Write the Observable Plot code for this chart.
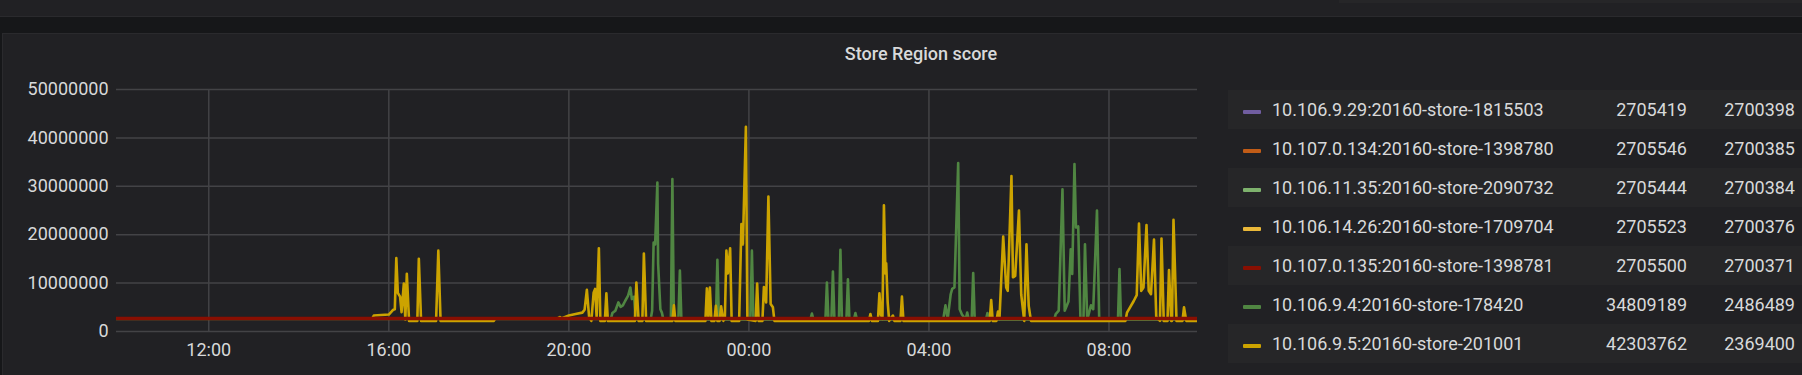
<!DOCTYPE html>
<html>
<head>
<meta charset="utf-8">
<script src="https://cdn.jsdelivr.net/npm/d3@7"></script>
<script src="https://cdn.jsdelivr.net/npm/@observablehq/plot@0.6"></script>
<style>
  html, body { margin: 0; padding: 0; background: #161719; width: 1802px; height: 375px; overflow: hidden; font-family: Roboto, "Noto Sans", sans-serif; }
  #toppanel { position: absolute; left: 0; top: 0; width: 1802px; height: 16px; background: #212124; border-bottom: 1px solid #2a2a2d; }
  #topbox { position: absolute; left: 1339px; top: 0; width: 463px; height: 3px; background: #262628; }
  #panel { position: absolute; left: 2px; top: 33px; width: 1810px; height: 350px; background: #212124; border-left: 1px solid #2a2a2d; border-top: 1px solid #2a2a2d; }
  #title { position: absolute; left: 0; width: 1842px; top: 43px; line-height: 22px; text-align: center; color: #d8d9da; font-size: 18px; font-weight: 500; }
  #chart { position: absolute; left: 0; top: 60px; }
  #legend { position: absolute; left: 1228px; top: 90px; width: 600px; }
  .row { position: relative; height: 39px; color: #d8d9da; font-size: 18px; }
  .row.odd { background: #262628; }
  .sw { position: absolute; left: 15px; top: 20px; width: 18px; height: 4px; border-radius: 1px; }
  .nm { position: absolute; left: 44px; top: 0; line-height: 39px; white-space: nowrap; }
  .v1 { position: absolute; left: 0; width: 459px; top: 0; line-height: 39px; text-align: right; }
  .v2 { position: absolute; left: 0; width: 567px; top: 0; line-height: 39px; text-align: right; }
</style>
</head>
<body>
<div id="toppanel"></div>
<div id="topbox"></div>
<div id="panel"></div>
<div id="title">Store Region score</div>
<div id="chart"></div>
<div id="legend"></div>
<script>
// ---- data (values in millions; "+" marks times on the following day) ----
const seriesNames = [
  "10.106.9.29:20160-store-1815503",
  "10.107.0.134:20160-store-1398780",
  "10.106.11.35:20160-store-2090732",
  "10.106.14.26:20160-store-1709704",
  "10.107.0.135:20160-store-1398781",
  "10.106.9.4:20160-store-178420",
  "10.106.9.5:20160-store-201001"
];
const legendMax = ["2705419", "2705546", "2705444", "2705523", "2705500", "34809189", "42303762"];
const legendCurrent = ["2700398", "2700385", "2700384", "2700376", "2700371", "2486489", "2369400"];

const purplePts = [["09:57", 2.705], ["+09:58", 2.700]];
const orangePts = [["09:57", 2.705], ["+09:58", 2.700]];
const lightGreenPts = [["09:57", 2.705], ["+09:58", 2.700]];
const lightYellowPts = [["09:57", 2.705], ["+09:58", 2.700]];
const redPts = [["09:57", 2.705], ["+09:58", 2.700]];

const greenPts = [
  ["09:57", 2.6], ["20:56", 2.6], ["20:58", 3.8], ["21:02", 4.3], ["21:06", 6.0], ["21:09", 5.1], ["21:12", 5.4],
  ["21:15", 6.3], ["21:19", 7.4], ["21:22", 9.1], ["21:24", 6.7], ["21:27", 7.2], ["21:29", 2.45],
  ["21:49", 2.45], ["21:51", 4.3], ["21:53", 18.4], ["21:55", 18.0], ["21:58", 30.8], ["21:59", 14.0], ["22:02", 4.6],
  ["22:04", 3.9], ["22:06", 2.45], ["22:16", 2.45], ["22:18", 31.5], ["22:20", 2.45], ["22:26", 2.45], ["22:28", 12.6],
  ["22:30", 2.45], ["23:16", 2.45], ["23:18", 14.8], ["23:20", 2.45], ["+00:02", 2.45], ["+00:04", 16.7], ["+00:06", 2.45],
  ["+01:22", 2.45], ["+01:24", 3.7], ["+01:26", 2.45], ["+01:42", 2.45], ["+01:44", 10.1], ["+01:46", 2.45],
  ["+01:50", 2.45], ["+01:52", 12.4], ["+01:54", 2.45], ["+02:00", 2.45], ["+02:02", 16.9], ["+02:04", 2.45],
  ["+02:10", 2.45], ["+02:12", 10.8], ["+02:14", 2.45], ["+02:20", 2.45], ["+02:22", 3.8], ["+02:24", 2.45],
  ["+04:19", 2.45], ["+04:22", 5.4], ["+04:25", 2.6], ["+04:29", 7.7], ["+04:31", 8.8], ["+04:34", 9.1], ["+04:39", 34.8],
  ["+04:41", 4.6], ["+04:44", 3.5], ["+04:49", 2.45], ["+04:51", 3.9], ["+04:53", 2.45], ["+04:57", 2.45],
  ["+04:59", 12.1], ["+05:01", 2.45], ["+05:16", 2.45], ["+05:18", 3.8], ["+05:20", 2.45], ["+06:47", 2.45],
  ["+06:49", 3.6], ["+06:53", 4.3], ["+06:58", 29.4], ["+07:01", 4.3], ["+07:06", 6.2], ["+07:09", 17.0],
  ["+07:11", 11.9], ["+07:14", 34.6], ["+07:16", 21.5], ["+07:19", 21.7], ["+07:22", 2.45], ["+07:26", 2.45],
  ["+07:28", 18.0], ["+07:31", 2.45], ["+07:36", 5.4], ["+07:39", 4.6], ["+07:44", 25.0], ["+07:47", 2.45],
  ["+08:12", 2.45], ["+08:14", 12.9], ["+08:16", 2.45], ["+09:58", 2.45]
];

const yellowPts = [
  ["09:57", 2.7], ["15:38", 2.7], ["15:40", 3.3], ["16:00", 3.5], ["16:06", 4.5], ["16:08", 4.6], ["16:10", 15.2],
  ["16:12", 8.0], ["16:15", 7.2], ["16:17", 4.0], ["16:20", 9.9], ["16:22", 2.5], ["16:24", 11.9], ["16:27", 2.2],
  ["16:38", 2.2], ["16:40", 15.0], ["16:43", 2.2], ["17:03", 2.2], ["17:06", 16.7], ["17:09", 2.2], ["18:20", 2.2],
  ["18:22", 2.7], ["19:45", 2.7], ["19:48", 3.0], ["19:50", 2.7], ["20:00", 3.3], ["20:09", 3.6], ["20:18", 3.9],
  ["20:21", 4.5], ["20:24", 8.6], ["20:27", 3.0], ["20:30", 2.2], ["20:33", 8.0], ["20:35", 8.8], ["20:37", 3.0],
  ["20:40", 17.2], ["20:42", 2.2], ["20:48", 2.2], ["20:50", 7.9], ["20:52", 2.2], ["21:28", 2.2], ["21:30", 10.1],
  ["21:33", 2.2], ["21:38", 2.2], ["21:40", 16.1], ["21:43", 2.2], ["22:18", 2.2], ["22:20", 5.4], ["22:22", 2.2],
  ["23:02", 2.2], ["23:04", 8.9], ["23:06", 3.0], ["23:08", 9.1], ["23:10", 2.2], ["23:14", 2.2], ["23:16", 5.3],
  ["23:18", 2.2], ["23:21", 2.2], ["23:23", 5.2], ["23:26", 2.2], ["23:28", 3.0], ["23:30", 16.7], ["23:32", 12.0],
  ["23:35", 17.2], ["23:37", 2.2], ["23:47", 2.2], ["23:50", 22.2], ["23:52", 18.0], ["23:56", 42.3], ["23:58", 2.5],
  ["+00:09", 2.2], ["+00:11", 9.9], ["+00:13", 2.2], ["+00:18", 2.2], ["+00:20", 9.2], ["+00:23", 6.0],
  ["+00:26", 27.9], ["+00:29", 5.7], ["+00:32", 5.0], ["+00:34", 2.2], ["+02:40", 2.2], ["+02:42", 3.6],
  ["+02:44", 2.2], ["+02:52", 2.2], ["+02:54", 7.9], ["+02:56", 3.5], ["+02:58", 2.6], ["+03:00", 26.1],
  ["+03:02", 12.0], ["+03:03", 14.1], ["+03:05", 6.0], ["+03:07", 2.2], ["+03:12", 3.3], ["+03:14", 2.2],
  ["+03:22", 2.2], ["+03:24", 7.2], ["+03:26", 2.2], ["+05:21", 2.2], ["+05:23", 6.5], ["+05:25", 2.2],
  ["+05:30", 2.2], ["+05:32", 4.1], ["+05:34", 2.6], ["+05:39", 19.6], ["+05:43", 9.1], ["+05:45", 8.4],
  ["+05:50", 32.1], ["+05:52", 11.2], ["+05:55", 11.5], ["+06:00", 25.0], ["+06:03", 7.7], ["+06:07", 2.2],
  ["+06:10", 18.0], ["+06:13", 5.3], ["+06:16", 2.2], ["+08:22", 2.2], ["+08:24", 3.9], ["+08:33", 6.3],
  ["+08:37", 7.5], ["+08:40", 22.3], ["+08:43", 8.4], ["+08:46", 9.1], ["+08:50", 22.0], ["+08:53", 8.4],
  ["+08:56", 7.7], ["+09:00", 19.0], ["+09:03", 3.0], ["+09:08", 2.2], ["+09:10", 19.2], ["+09:13", 2.2],
  ["+09:18", 2.2], ["+09:20", 12.7], ["+09:23", 2.2], ["+09:24", 2.2], ["+09:26", 23.1], ["+09:30", 2.2],
  ["+09:38", 2.2], ["+09:40", 5.0], ["+09:43", 2.2], ["+09:58", 2.2]
];

const yTickValues = [0, 10, 20, 30, 40, 50];
const xTickLabels = ["12:00", "16:00", "20:00", "+00:00", "+04:00", "+08:00"];
const xDomain = ["09:57", "+09:58"];

// ---- styles ----
const seriesColors = ["#705DA0", "#C15C17", "#7EB26D", "#EAB839", "#890F02", "#508642", "#CCA300"];

// ---- build ----
function parseT(s) {
  const next = s.startsWith("+");
  const [h, m] = s.replace("+", "").split(":").map(Number);
  return new Date(Date.UTC(2019, 0, next ? 2 : 1, h, m));
}
const allPts = [purplePts, orangePts, lightGreenPts, lightYellowPts, redPts, greenPts, yellowPts];
const tables = allPts.map((pts, i) => pts.map(([t, v]) => ({ series: seriesNames[i], t: parseT(t), v: v * 1e6 })));
const xTicks = xTickLabels.map(parseT);
const yTicks = yTickValues.map(v => v * 1e6);

const drawOrder = [0, 1, 2, 3, 5, 6, 4];
const gridColor = "#434346";

const chart = Plot.plot({
  width: 1210,
  height: 315,
  marginLeft: 116,
  marginRight: 13,
  marginTop: 29,
  marginBottom: 44,
  style: { background: "transparent", color: "#d8d9da", fontFamily: "Roboto, sans-serif", fontSize: "18px", overflow: "visible" },
  x: { type: "utc", domain: xDomain.map(parseT), ticks: xTicks, tickFormat: d3.utcFormat("%H:%M"), tickSize: 0, tickPadding: 12, label: null },
  y: { domain: [0, 50e6], ticks: yTicks, tickFormat: d3.format("d"), tickSize: 0, tickPadding: 8, label: null },
  marks: [
    Plot.ruleY(yTicks, { stroke: gridColor, strokeWidth: 1.5 }),
    Plot.ruleX(xTicks, { stroke: gridColor, strokeWidth: 1.5 }),
    ...drawOrder.map(i => Plot.line(tables[i], {
      x: "t", y: "v", stroke: seriesColors[i],
      strokeWidth: i === 4 ? 3.5 : (i >= 5 ? 2.6 : 2),
      strokeLinejoin: "round", clip: true
    }))
  ]
});
document.getElementById("chart").appendChild(chart);

// ---- legend ----
const legend = document.getElementById("legend");
seriesNames.forEach((name, i) => {
  const row = document.createElement("div");
  row.className = "row" + (i % 2 === 0 ? " odd" : "");
  row.innerHTML = `<span class="sw" style="background:${seriesColors[i]}"></span>` +
    `<span class="nm">${name}</span>` +
    `<span class="v1">${legendMax[i]}</span>` +
    `<span class="v2">${legendCurrent[i]}</span>`;
  legend.appendChild(row);
});
</script>
</body>
</html>
